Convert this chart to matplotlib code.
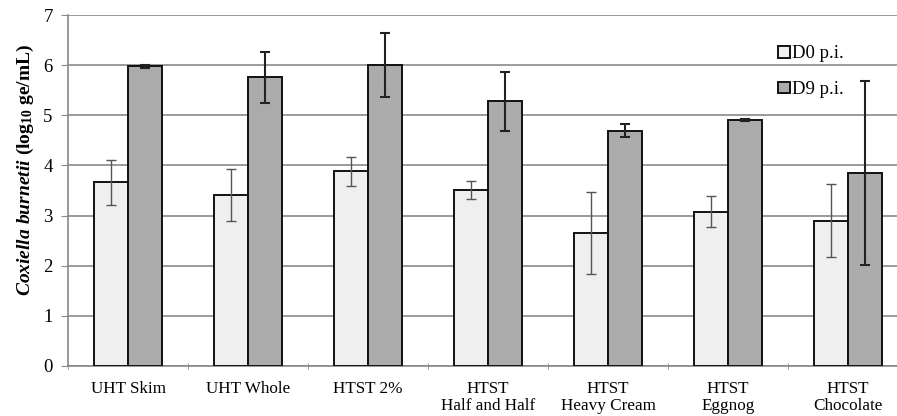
import numpy as np
import matplotlib
matplotlib.use("Agg")
import matplotlib.pyplot as plt

# %% data

categories = ["UHT Skim", "UHT Whole", "HTST 2%", "HTST\nHalf and Half",
              "HTST\nHeavy Cream", "HTST\nEggnog", "HTST\nChocolate"]
d0_mean = [3.66, 3.41, 3.88, 3.51, 2.65, 3.08, 2.90]
d0_err = [0.44, 0.51, 0.29, 0.17, 0.82, 0.31, 0.72]
d9_mean = [5.98, 5.76, 6.00, 5.28, 4.69, 4.91, 3.85]
d9_err = [0.03, 0.51, 0.64, 0.59, 0.13, 0.02, 1.83]
series_labels = ["D0 p.i.", "D9 p.i."]

# %% style

plt.rcParams["font.family"] = "Liberation Serif"
plt.rcParams["mathtext.fontset"] = "custom"
plt.rcParams["mathtext.rm"] = "Liberation Serif:bold"
plt.rcParams["mathtext.it"] = "Liberation Serif:italic:bold"
plt.rcParams["mathtext.bf"] = "Liberation Serif:bold"

W, H = 897, 416
fig = plt.figure(figsize=(W / 100, H / 100), dpi=100)
# axes run a bit past the right edge, like the cropped original
ax = fig.add_axes([68 / W, 1 - 366 / H, 840 / W, 351 / H])

x = np.arange(len(categories))
width = 0.285

ax.bar(x - width / 2, d0_mean, width, color="#efefef", edgecolor="#111111",
       linewidth=1.4, label=series_labels[0], zorder=3)
ax.bar(x + width / 2, d9_mean, width, color="#ababab", edgecolor="#111111",
       linewidth=1.4, label=series_labels[1], zorder=3)

ax.errorbar(x - width / 2, d0_mean, yerr=d0_err, fmt="none", ecolor="#555555",
            elinewidth=1.0, capsize=3.5, capthick=1.0, zorder=4)
ax.errorbar(x + width / 2, d9_mean, yerr=d9_err, fmt="none", ecolor="#222222",
            elinewidth=1.5, capsize=3.5, capthick=1.5, zorder=4)

ax.set_xlim(-0.5, len(categories) - 0.5)
ax.set_ylim(0, 7)
ax.set_yticks(range(0, 8))
ax.yaxis.grid(True, color="#8a8a8a", linewidth=1.2, zorder=0)
ax.set_axisbelow(True)

ax.set_xticks(x)
ax.set_xticklabels(categories, fontsize=12.3, linespacing=1.05)
ax.set_xticks(np.arange(-0.5, len(categories), 1), minor=True)
ax.tick_params(axis="x", which="major", length=0, pad=11)
ax.tick_params(axis="x", which="minor", length=4, color="#888888", direction="inout")
ax.tick_params(axis="y", length=5, color="#888888", labelsize=13.5, pad=6)

for side in ["top", "right"]:
    ax.spines[side].set_visible(False)
ax.spines["left"].set_color("#888888")
ax.spines["bottom"].set_color("#888888")
ax.spines["left"].set_linewidth(1.2)
ax.spines["bottom"].set_linewidth(1.2)

ax.set_ylabel(r"$\it{Coxiella\ burnetii}$ (log$_{10}$ ge/mL)", fontsize=14,
              fontweight="bold")
ax.yaxis.set_label_coords(-0.038, 0.56)

leg = fig.legend(loc="upper left", bbox_to_anchor=(769 / W, 1 - 36 / H),
                 frameon=False, fontsize=13.5, handlelength=0.6, handleheight=0.6,
                 handletextpad=0.15, labelspacing=1.0, borderpad=0)

fig.savefig("out.png", dpi=100)
